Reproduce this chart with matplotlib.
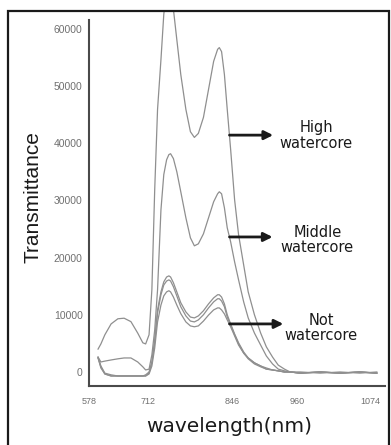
import matplotlib
matplotlib.use("Agg")
import matplotlib.pyplot as plt
from matplotlib.patches import Rectangle

# DATA
wavelength = [594, 599, 606, 617, 629, 640, 652, 664, 673, 678,
              684, 689, 694, 699, 705, 710, 715, 719, 722, 727,
              733, 740, 749, 757, 764, 771, 780, 789, 798, 805,
              808, 812, 817, 822, 828, 835, 842, 851, 859, 870,
              881, 891, 902, 912, 923, 933, 951, 986, 1021, 1056, 1086]

high = [4000, 4900, 6500, 8400, 9300, 9400, 8800, 6800, 5100, 4900,
        6500, 14400, 31900, 45900, 54600, 62500, 66900, 68000, 67200, 63400,
        58100, 52000, 45900, 42000, 41000, 41700, 44500, 49400, 54300, 56400,
        56700, 56000, 52000, 45900, 38900, 30100, 24000, 18700, 14000, 10000,
        6800, 4400, 2600, 1200, 500, 0, -200, 0, -200, 0, -200]

middle = [2600, 1750, 1900, 2100, 2300, 2450, 2450, 1750, 900, 350,
          500, 3000, 7350, 14350, 28350, 34500, 37100, 38000, 38150, 37300,
          35000, 31500, 26950, 23450, 22050, 22400, 24150, 26950, 29750, 31150,
          31500, 31150, 28700, 25200, 22750, 19250, 16100, 12250, 9450, 6800,
          4700, 2800, 1400, 500, 200, 0, 0, -200, 0, -200, 0]

not_1 = [2600, 1050, -200, -500, -700, -700, -700, -700, -700, -500,
         0, 1750, 5600, 10850, 14000, 15750, 16600, 16800, 16600, 15600,
         14000, 12100, 10500, 9600, 9450, 9800, 10700, 11900, 12950, 13500,
         13500, 13100, 11900, 10000, 8400, 6650, 5100, 3500, 2450, 1600,
         1050, 700, 350, 200, 0, 0, -200, 0, -200, 0, -200]

not_2 = [2450, 900, -350, -700, -700, -700, -700, -700, -700, -700,
         -200, 1600, 5250, 10300, 13500, 15200, 15900, 16100, 15900, 14900,
         13300, 11400, 9800, 8900, 8750, 9100, 10000, 11200, 12250, 12800,
         12800, 12400, 11400, 9600, 8200, 6500, 4900, 3300, 2450, 1600,
         1050, 500, 350, 200, 0, 0, -200, 0, -200, 0, -200]

not_3 = [2450, 700, -350, -700, -700, -700, -700, -700, -700, -700,
         -350, 1050, 4200, 8750, 11700, 13300, 14000, 14200, 14000, 13100,
         11700, 10200, 8750, 8050, 7900, 8050, 8900, 9950, 10850, 11200,
         11200, 10850, 10150, 9100, 7900, 6300, 4700, 3300, 2300, 1400,
         900, 500, 350, 200, 0, 0, -200, 0, -200, 0, -200]

yticks = [0, 10000, 20000, 30000, 40000, 50000, 60000]
xtick_labels = ["578", "712", "846", "960", "1074"]
xtick_pos = [578, 682, 830, 946, 1074]

labels = ["High\nwatercore", "Middle\nwatercore", "Not\nwatercore"]
arrow_y = [41400, 23600, 8400]
arrow_end = [903, 902, 921]
label_xy = [(979, 41300), (981, 23100), (988, 7700)]

# FIGURE
fig = plt.figure(figsize=(3.91, 4.45), dpi=100)
ax = fig.add_axes([0.2276, 0.1326, 0.757, 0.8427])

for s in [high, middle, not_1, not_2, not_3]:
    ax.plot(wavelength, s, color="#8f8f8f", lw=0.9)

ax.set_xlim(579.8, 1100.4)
ax.set_ylim(-2450, 63100)

for sp in ["top", "right"]:
    ax.spines[sp].set_visible(False)
for sp in ["left", "bottom"]:
    ax.spines[sp].set_color("#4a4a4a")
    ax.spines[sp].set_linewidth(1.5)
ax.spines["left"].set_bounds(-2450, 61500)

ax.set_yticks(yticks)
ax.set_yticklabels([str(t) for t in yticks])
ax.set_xticks(xtick_pos)
ax.set_xticklabels(xtick_labels)
ax.tick_params(axis="y", length=0, pad=4.5, labelsize=7.5, labelcolor="#707070")
ax.tick_params(axis="x", length=0, pad=8, labelsize=6.5, labelcolor="#707070")
for t in ax.get_xticklabels() + ax.get_yticklabels():
    t.set_family("Liberation Sans")

# arrows + labels
for lab, ay, ae, (tx, ty) in zip(labels, arrow_y, arrow_end, label_xy):
    ax.annotate("", xy=(ae, ay), xytext=(826, ay),
                arrowprops=dict(arrowstyle="-|>", lw=2, color="#1a1a1a",
                                mutation_scale=13, shrinkA=0, shrinkB=0))
    ax.text(tx, ty, lab, ha="center", va="center", fontsize=10.5,
            color="#1a1a1a", family="DejaVu Sans", linespacing=1.05)

fig.text(33 / 391, 1 - 197 / 445, "Transmittance", rotation=90,
         ha="center", va="center", fontsize=15, family="Liberation Sans",
         color="#1a1a1a")
fig.text(229 / 391, 1 - 427 / 445, "wavelength(nm)", ha="center", va="center",
         fontsize=14.5, family="DejaVu Sans", color="#1a1a1a")

# outer frame
fig.patches.append(Rectangle((8 / 391, -0.02), 381 / 391, 0.02 + 434 / 445,
                             transform=fig.transFigure, fill=False,
                             edgecolor="#1a1a1a", lw=1.6))

fig.savefig("out.png", dpi=100)
